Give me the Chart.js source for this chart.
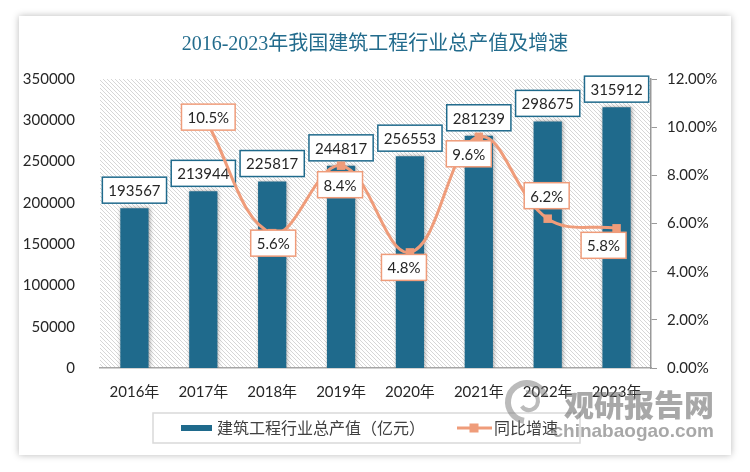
<!DOCTYPE html>
<html>
<head>
<meta charset="utf-8">
<script src="https://cdn.jsdelivr.net/npm/chart.js@4.4.0/dist/chart.umd.min.js"></script>
<style>
  html, body { margin: 0; padding: 0; background: #fff; }
  #wrap { position: relative; width: 750px; height: 472px; overflow: hidden; }
  #card { position: absolute; left: 19px; top: 16px; width: 712px; height: 439px; background: #fff; box-shadow: 0 0 7px rgba(0,0,0,0.28); }
  #chart { position: absolute; left: 0; top: 0; }
</style>
</head>
<body>
<div id="wrap">
  <div id="card"></div>
  <canvas id="chart" width="750" height="472"></canvas>
</div>
<script>
'use strict';

var years = ['2016年', '2017年', '2018年', '2019年', '2020年', '2021年', '2022年', '2023年'];
var outputValues = [193567, 213944, 225817, 244817, 256553, 281239, 298675, 315912];
var growthRates = [null, 10.5, 5.6, 8.4, 4.8, 9.6, 6.2, 5.8];
var leftTicks = [0, 50000, 100000, 150000, 200000, 250000, 300000, 350000];
var rightTicks = [0, 2, 4, 6, 8, 10, 12];

var barColor = '#1F6A8C';
var lineColor = '#EF9C7A';
var numFont = 'Lato, "Noto Sans CJK SC", sans-serif';
var cjkFont = '"Noto Sans CJK SC", sans-serif';

Chart.defaults.font.family = numFont;
Chart.defaults.color = '#404040';

// diagonal hatch for the plot area
function makeHatch() {
  var c = document.createElement('canvas');
  c.width = 4; c.height = 4;
  var g = c.getContext('2d');
  g.strokeStyle = '#d6d6d6';
  g.lineWidth = 1;
  g.beginPath();
  g.moveTo(-1, -1); g.lineTo(5, 5);
  g.moveTo(-1, 3); g.lineTo(1, 5);
  g.moveTo(3, -1); g.lineTo(5, 1);
  g.stroke();
  return c;
}

function drawBox(ctx, text, cx, cy, border) {
  ctx.font = '15px ' + numFont;
  var w = ctx.measureText(text).width + 12, h = 26;
  ctx.fillStyle = '#fff';
  ctx.fillRect(cx - w / 2, cy - h / 2, w, h);
  ctx.strokeStyle = border;
  ctx.lineWidth = 1.5;
  ctx.strokeRect(cx - w / 2, cy - h / 2, w, h);
  ctx.fillStyle = '#262626';
  ctx.textAlign = 'center';
  ctx.textBaseline = 'middle';
  ctx.fillText(text, cx, cy + 1);
}

var chartDecor = {
  id: 'chartDecor',
  beforeDraw: function(chart) {
    var a = chart.chartArea, ctx = chart.ctx;
    ctx.save();
    ctx.fillStyle = ctx.createPattern(makeHatch(), 'repeat');
    ctx.fillRect(a.left, a.top, a.right - a.left, a.bottom - a.top);
    ctx.restore();
  },
  beforeDatasetDraw: function(chart, args) {
    if (args.index !== 0) return;
    var ctx = chart.ctx;
    ctx.save();
    ctx.shadowColor = 'rgba(0,0,0,0.35)';
    ctx.shadowBlur = 4;
    ctx.shadowOffsetX = 1;
  },
  afterDatasetDraw: function(chart, args) {
    if (args.index !== 0) return;
    var ctx = chart.ctx;
    ctx.restore();
    ctx.save();
    args.meta.data.forEach(function(bar, i) {
      drawBox(ctx, String(outputValues[i]), bar.x, bar.y - 18, barColor);
    });
    ctx.restore();
  },
  afterDatasetsDraw: function(chart, args, opts) {
    var ctx = chart.ctx;
    var meta = chart.getDatasetMeta(1);
    ctx.save();
    meta.data.forEach(function(pt, i) {
      if (growthRates[i] === null) return;
      var s = opts.shift[i];
      drawBox(ctx, growthRates[i].toFixed(1) + '%', pt.x + s[0], pt.y + s[1], lineColor);
    });
    ctx.restore();
  },
  afterDraw: function(chart, args, opts) {
    var ctx = chart.ctx;
    var ds = chart.data.datasets;
    var lg = opts.legend;
    ctx.save();
    // legend
    ctx.font = '16px ' + cjkFont;
    ctx.textAlign = 'left';
    ctx.textBaseline = 'middle';
    var x = lg.left + 28, cy = lg.cy;
    ctx.fillStyle = ds[0].backgroundColor;
    ctx.fillRect(x, cy - 3, 31, 6);
    x += 36;
    ctx.fillStyle = '#404040';
    ctx.fillText(ds[0].label, x, cy);
    x += ctx.measureText(ds[0].label).width + 32;
    ctx.strokeStyle = ds[1].borderColor;
    ctx.lineWidth = 3;
    ctx.beginPath(); ctx.moveTo(x, cy); ctx.lineTo(x + 35, cy); ctx.stroke();
    ctx.fillStyle = ds[1].borderColor;
    ctx.fillRect(x + 12.5, cy - 4.5, 9, 9);
    x += 37;
    ctx.fillStyle = '#404040';
    ctx.fillText(ds[1].label, x, cy);
    x += ctx.measureText(ds[1].label).width + 22;
    ctx.strokeStyle = '#d9d9d9';
    ctx.lineWidth = 1.5;
    ctx.strokeRect(lg.left, cy - 15, x - lg.left, 30);
    // watermark
    ctx.strokeStyle = 'rgba(120,120,120,0.5)';
    ctx.lineWidth = 6;
    ctx.beginPath(); ctx.arc(527, 402, 19, Math.PI * 0.55, Math.PI * 1.9); ctx.stroke();
    ctx.lineWidth = 4;
    ctx.beginPath(); ctx.arc(529, 401, 9, Math.PI * 1.4, Math.PI * 0.8); ctx.stroke();
    ctx.fillStyle = 'rgba(110,110,110,0.6)';
    ctx.textAlign = 'right';
    ctx.textBaseline = 'alphabetic';
    ctx.font = '900 30px ' + cjkFont;
    ctx.fillText('观研报告网', 714, 416);
    ctx.font = 'bold 19px "Liberation Sans", sans-serif';
    ctx.fillText('chinabaogao.com', 714, 437);
    ctx.restore();
  }
};

var ctx = document.getElementById('chart').getContext('2d');
var chart = new Chart(ctx, {
  type: 'bar',
  data: {
    labels: years,
    datasets: [{
      type: 'bar',
      label: '建筑工程行业总产值（亿元）',
      data: outputValues,
      backgroundColor: barColor,
      borderWidth: 0,
      yAxisID: 'y',
      categoryPercentage: 1,
      barPercentage: 0.41,
      order: 1
    }, {
      type: 'line',
      label: '同比增速',
      data: growthRates,
      yAxisID: 'y1',
      borderColor: lineColor,
      backgroundColor: lineColor,
      borderWidth: 3,
      tension: 0.4,
      pointStyle: 'rect',
      pointRadius: 6,
      pointBorderWidth: 0,
      order: 0
    }]
  },
  options: {
    responsive: false,
    animation: false,
    layout: { padding: { left: 0, right: 0, top: 0, bottom: 64 } },
    scales: {
      x: {
        grid: { display: true, drawOnChartArea: false, drawTicks: false },
        border: { display: true, color: '#a6a6a6', width: 1.5 },
        ticks: { padding: 15, color: '#262626', font: { size: 15, family: numFont } },
        afterFit: function(scale) { scale.height = 40; }
      },
      y: {
        position: 'left',
        min: 0, max: 350000,
        grid: { display: false },
        border: { display: false },
        ticks: { padding: 17, color: '#262626', font: { size: 15 }, callback: function(v) { return String(v); } },
        afterBuildTicks: function(scale) { scale.ticks = leftTicks.map(function(v) { return { value: v }; }); },
        afterFit: function(scale) { scale.width = 100; }
      },
      y1: {
        position: 'right',
        min: 0, max: 12,
        grid: { display: true, drawOnChartArea: false, drawTicks: true, tickLength: 6, color: '#999' },
        border: { display: true, color: '#999', width: 1.5 },
        ticks: {
          padding: 10, color: '#262626', font: { size: 15 },
          callback: function(v) { return v.toFixed(2) + '%'; }
        },
        afterBuildTicks: function(scale) { scale.ticks = rightTicks.map(function(v) { return { value: v }; }); },
        afterFit: function(scale) { scale.width = 99; }
      }
    },
    plugins: {
      title: {
        display: true,
        text: '2016-2023年我国建筑工程行业总产值及增速',
        color: '#236C8D',
        font: { size: 20, weight: 'normal', family: '"Liberation Serif", "Noto Sans CJK SC", serif' },
        padding: { top: 33, bottom: 22 }
      },
      legend: { display: false },
      tooltip: { enabled: false },
      chartDecor: {
        shift: [[0, 0], [5, 2], [1, 10], [-1, 19], [-6, 15], [-10, 17], [-1, -23], [-13, 17]],
        legend: { left: 153, cy: 428 }
      }
    }
  },
  plugins: [chartDecor]
});
</script>
</body>
</html>
